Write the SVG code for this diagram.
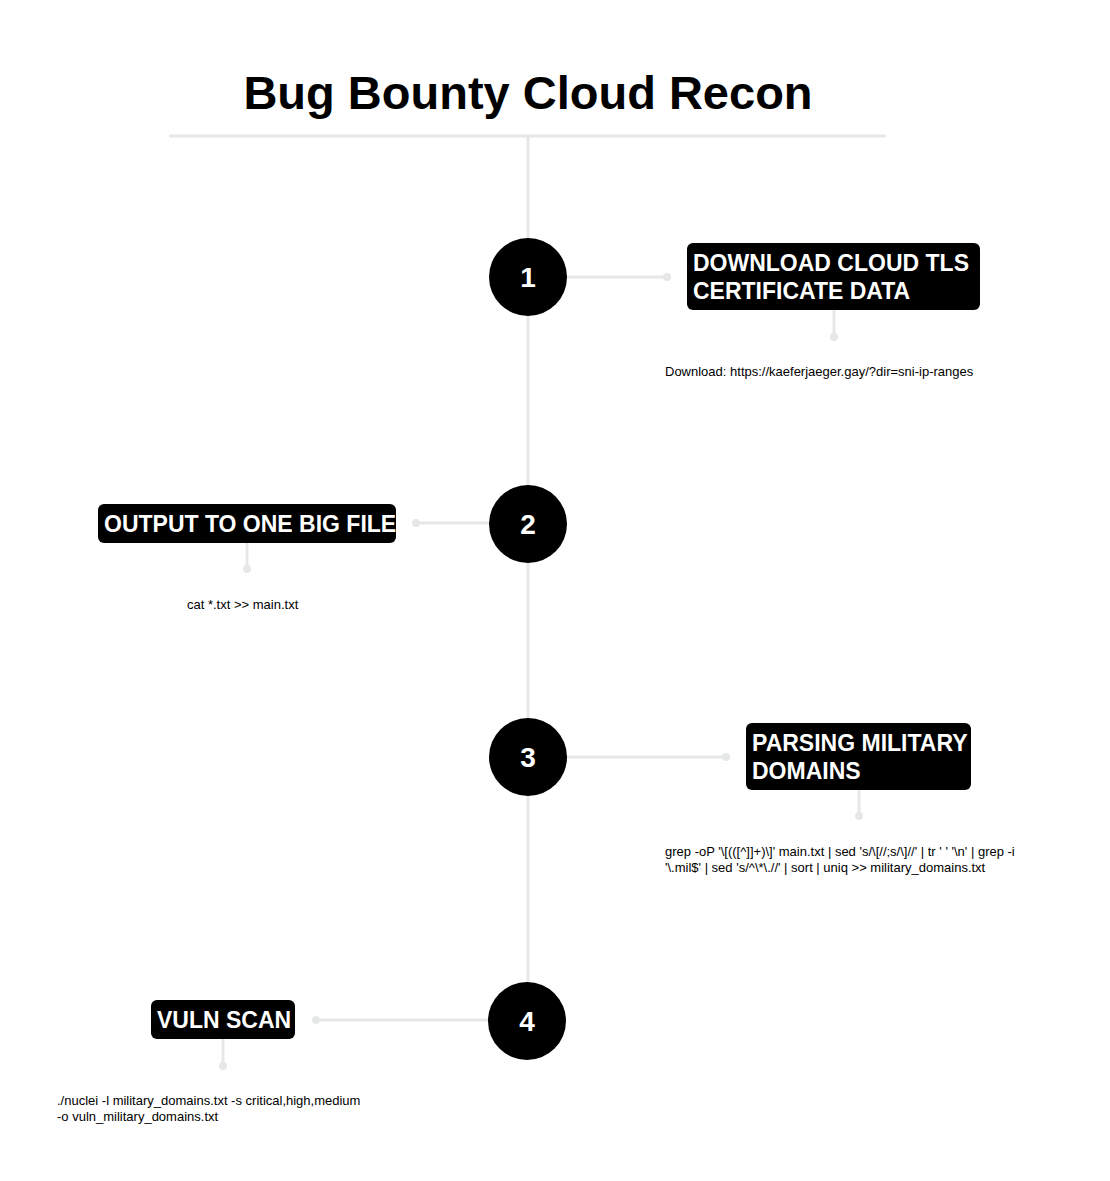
<svg xmlns="http://www.w3.org/2000/svg" width="1110" height="1181" viewBox="0 0 1110 1181">
<style>
.ln{stroke:#e6e8e8;stroke-width:3;fill:none}
.dot{fill:#e6e8e8}
.num{fill:#000}
.nt{font-family:"Liberation Sans",Arial,sans-serif;font-weight:bold;font-size:28px;fill:#fff;text-anchor:middle}
.box{fill:#000}
.bt{font-family:"Liberation Sans",Arial,sans-serif;font-size:23px;fill:#fff;font-weight:bold}
.d{font-family:"Liberation Sans",Arial,sans-serif;font-size:13px;fill:#000}
</style>
<rect width="1110" height="1181" fill="#fff"/>
<text x="528" y="109" text-anchor="middle" font-family="'Liberation Sans',Arial,sans-serif" font-weight="bold" font-size="47" fill="#000">Bug Bounty Cloud Recon</text>
<g id="connectors">
<line class="ln" x1="169" y1="136" x2="886" y2="136"/>
<line class="ln" x1="528" y1="136" x2="528" y2="1020"/>
<line class="ln" x1="567" y1="277" x2="667" y2="277"/><circle class="dot" cx="667" cy="277" r="4"/>
<line class="ln" x1="834" y1="310" x2="834" y2="337"/><circle class="dot" cx="834" cy="337" r="4"/>
<line class="ln" x1="416" y1="523" x2="489" y2="523"/><circle class="dot" cx="416" cy="523" r="4"/>
<line class="ln" x1="247" y1="543" x2="247" y2="569"/><circle class="dot" cx="247" cy="569" r="4"/>
<line class="ln" x1="567" y1="757" x2="726" y2="757"/><circle class="dot" cx="726" cy="757" r="4"/>
<line class="ln" x1="859" y1="790" x2="859" y2="816"/><circle class="dot" cx="859" cy="816" r="4"/>
<line class="ln" x1="316" y1="1020" x2="488" y2="1020"/><circle class="dot" cx="316" cy="1020" r="4"/>
<line class="ln" x1="223" y1="1039" x2="223" y2="1066"/><circle class="dot" cx="223" cy="1066" r="4"/>
</g>
<g id="step1">
<circle class="num" cx="528" cy="277" r="39"/><text class="nt" x="528" y="287">1</text>
<rect class="box" x="687" y="243" width="293" height="67" rx="6"/>
<text class="bt" x="693" y="271">DOWNLOAD CLOUD TLS</text>
<text class="bt" x="693" y="299">CERTIFICATE DATA</text>
<text class="d" x="665" y="376">Download: https://kaeferjaeger.gay/?dir=sni-ip-ranges</text>
</g>
<g id="step2">
<circle class="num" cx="528" cy="524" r="39"/><text class="nt" x="528" y="534">2</text>
<rect class="box" x="98" y="504" width="298" height="39" rx="6"/>
<text class="bt" x="104" y="532">OUTPUT TO ONE BIG FILE</text>
<text class="d" x="187" y="609">cat *.txt &gt;&gt; main.txt</text>
</g>
<g id="step3">
<circle class="num" cx="528" cy="757" r="39"/><text class="nt" x="528" y="767">3</text>
<rect class="box" x="746" y="723" width="225" height="67" rx="6"/>
<text class="bt" x="752" y="751">PARSING MILITARY</text>
<text class="bt" x="752" y="779">DOMAINS</text>
<text class="d" x="665" y="856">grep -oP '\[(([^]]+)\]' main.txt | sed 's/\[//;s/\]//' | tr ' ' '\n' | grep -i</text>
<text class="d" x="665" y="872">'\.mil$' | sed 's/^\*\.//' | sort | uniq &gt;&gt; military_domains.txt</text>
</g>
<g id="step4">
<circle class="num" cx="527" cy="1021" r="39"/><text class="nt" x="527" y="1031">4</text>
<rect class="box" x="151" y="1000" width="144" height="39" rx="6"/>
<text class="bt" x="157" y="1028">VULN SCAN</text>
<text class="d" x="57" y="1105">./nuclei -l military_domains.txt -s critical,high,medium</text>
<text class="d" x="57" y="1121">-o vuln_military_domains.txt</text>
</g>
</svg>
